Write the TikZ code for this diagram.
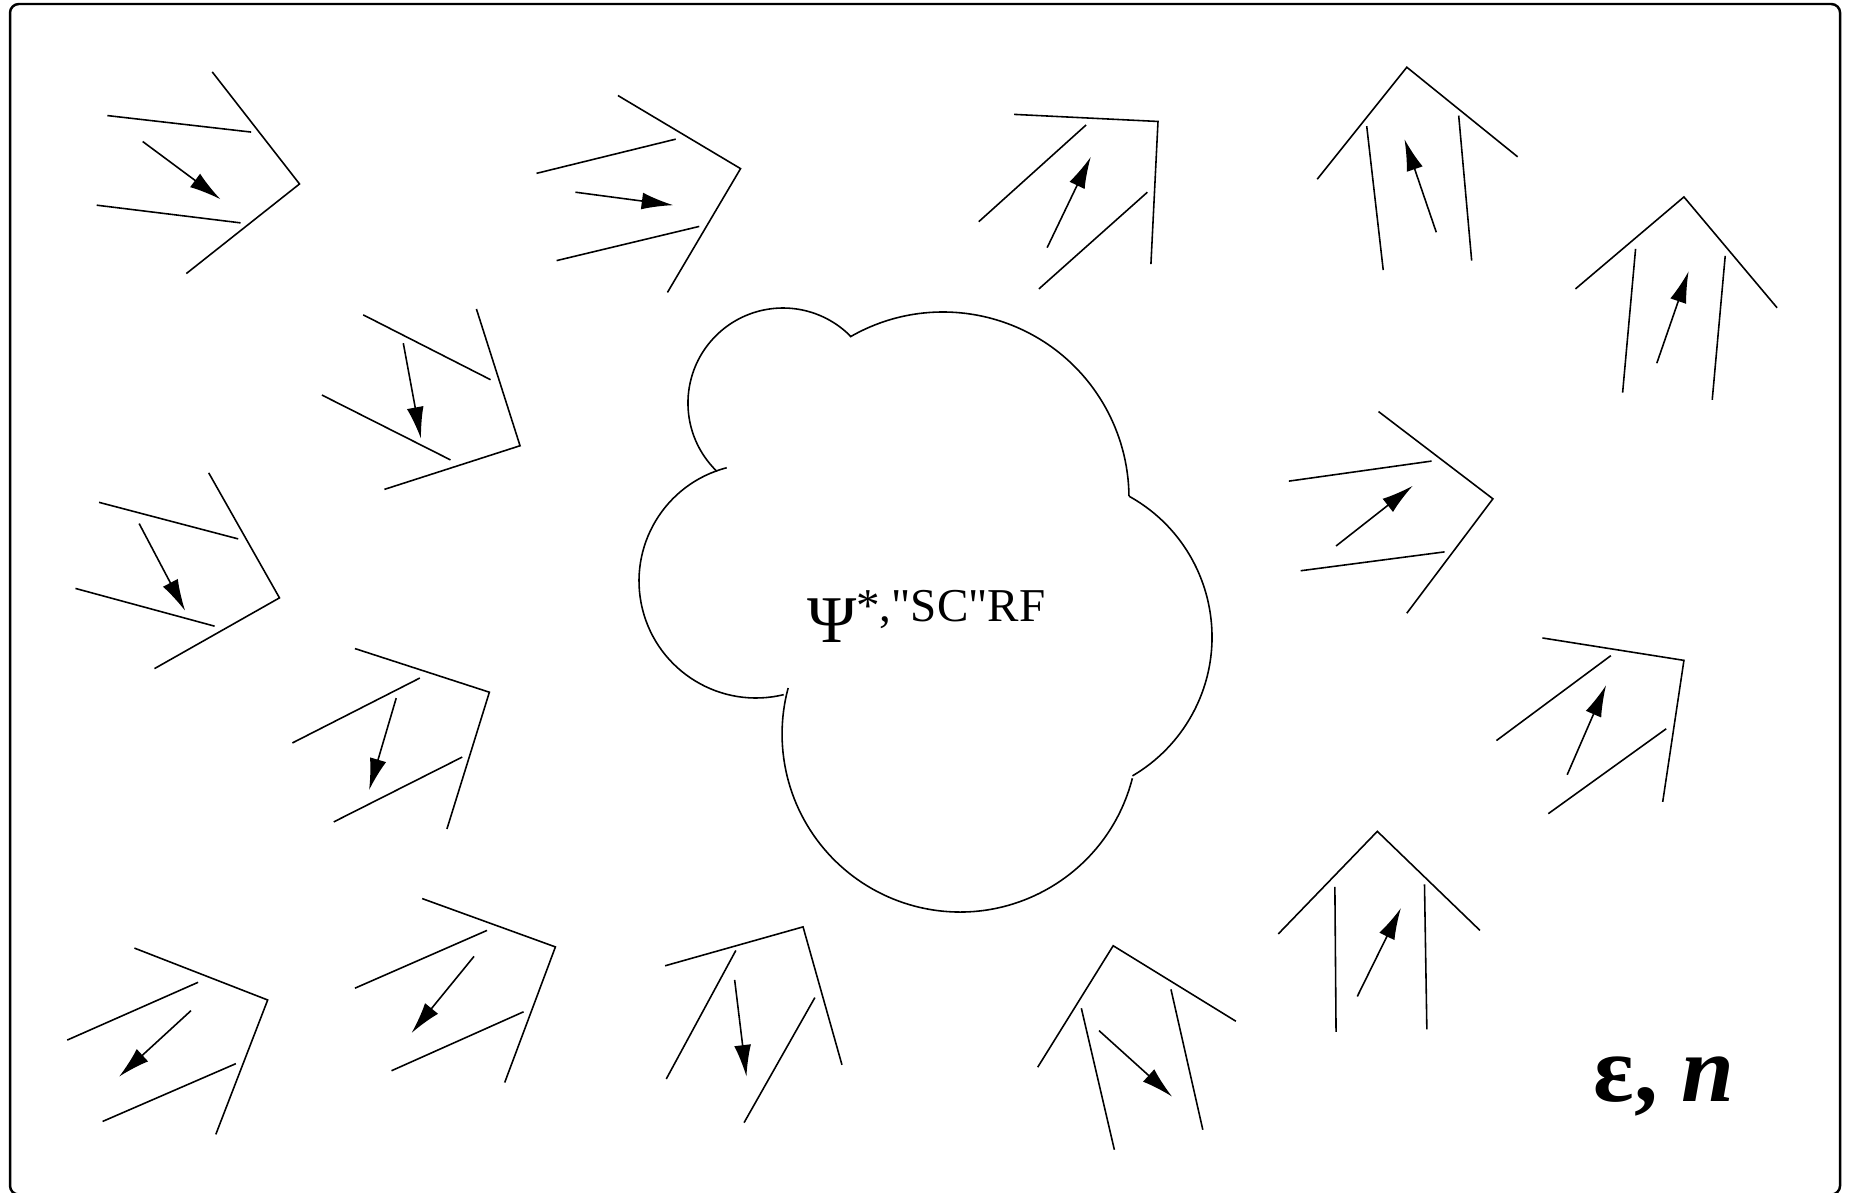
\documentclass[tikz,border=0pt]{standalone}
\usepackage{fontspec}
\setmainfont{Liberation Serif}
\usetikzlibrary{arrows.meta}

\newcommand{\quotemark}{\XeTeXglyph\XeTeXglyphindex "quotedbl"\relax}

\tikzset{
  wedge/.style={line width=.45pt},
  flow/.style={line width=.45pt,-{Latex[length=9pt,width=4.8pt]}},
}

\begin{document}
\begin{tikzpicture}[x=0.011792cm,y=-0.011792cm]
  \useasboundingbox (0,0) rectangle (1568,1011);
  \draw[line width=.7pt,rounded corners=2.5pt] (8.5,3.4) rectangle (1560.4,1013);
  % cloud
  \draw[wedge] (664.0,341.8) ++(134:80.6) arc[start angle=134,end angle=315.4,radius=80.6];
  \draw[wedge] (799.7,422.3) ++(240:157.7) arc[start angle=240,end angle=359.4,radius=157.7];
  \draw[wedge] (891.3,540.2) ++(-61:136.5) arc[start angle=-61,end angle=59.6,radius=136.5];
  \draw[wedge] (814.1,622.5) ++(14.4:150.9) arc[start angle=14.4,end angle=195,radius=150.9];
  \draw[wedge] (641.1,492.7) ++(76.3:99.2) arc[start angle=76.3,end angle=255.5,radius=99.2];
  \node[anchor=base,font=\fontsize{13.4}{16}\selectfont] (cloudtext) at (785.5,527)
    {{\fontsize{19}{19}\selectfont\raisebox{-6pt}{Ψ}}*,\quotemark SC\quotemark RF};
  % wedges
  \foreach \wa/\wb/\wc/\ua/\ub/\va/\vb/\fa/\fb in {
    {(180,61)/(254,156)/(158,232)/(91,98)/(213,112)/(82,174)/(204,189)/(121,120)/(187,169)},
    {(524,81)/(628,143)/(566,248)/(455,147)/(573,118)/(472,221)/(593,192)/(488,163)/(571,174)},
    {(860,97)/(982,103)/(976,224)/(830,188)/(921,106)/(881,245)/(973,163)/(888,210)/(925,133)},
    {(1117,152)/(1193,57)/(1287,133)/(1159,107)/(1173,229)/(1237,98)/(1248,221)/(1218,197)/(1191,118)},
    {(1336,245)/(1428,167)/(1507,261)/(1387,211)/(1376,333)/(1463,217)/(1452,339)/(1405,308)/(1432,230)},
    {(404,262)/(441,378)/(326,415)/(308,267)/(416,322)/(273,335)/(382,390)/(342,291)/(357,372)},
    {(177,401)/(237,507)/(131,567)/(84,426)/(202,457)/(64,499)/(182,531)/(118,444)/(157,518)},
    {(301,550)/(415,587)/(379,703)/(248,630)/(356,575)/(283,697)/(392,642)/(336,592)/(313,670)},
    {(1169,349)/(1266,423)/(1193,520)/(1093,408)/(1214,391)/(1103,484)/(1225,468)/(1133,463)/(1198,412)},
    {(1308,541)/(1428,560)/(1410,680)/(1269,628)/(1366,556)/(1313,690)/(1413,618)/(1329,657)/(1362,581)},
    {(1084,792)/(1168,705)/(1255,789)/(1132,752)/(1133,875)/(1208,750)/(1210,873)/(1151,845)/(1188,770)},
    {(880,905)/(944,802)/(1048,866)/(917,855)/(945,975)/(993,839)/(1020,958)/(932,874)/(994,930)},
    {(564,819)/(681,786)/(714,903)/(565,915)/(624,806)/(631,952)/(691,846)/(623,831)/(633,913)},
    {(358,762)/(471,803)/(428,918)/(301,838)/(413,789)/(332,908)/(444,858)/(402,811)/(349,876)},
    {(114,804)/(227,848)/(183,962)/(57,882)/(168,833)/(87,951)/(200,902)/(162,857)/(101,913)}}
  {
    \draw[wedge] \wa -- \wb -- \wc \ua -- \ub \va -- \vb;
    \draw[flow] \fa -- \fb;
  }
  \node[anchor=base,font=\fontsize{27}{30}\selectfont\bfseries] (symbols) at (1411,934.5) {ε, \textit{n}};
\end{tikzpicture}
\end{document}
